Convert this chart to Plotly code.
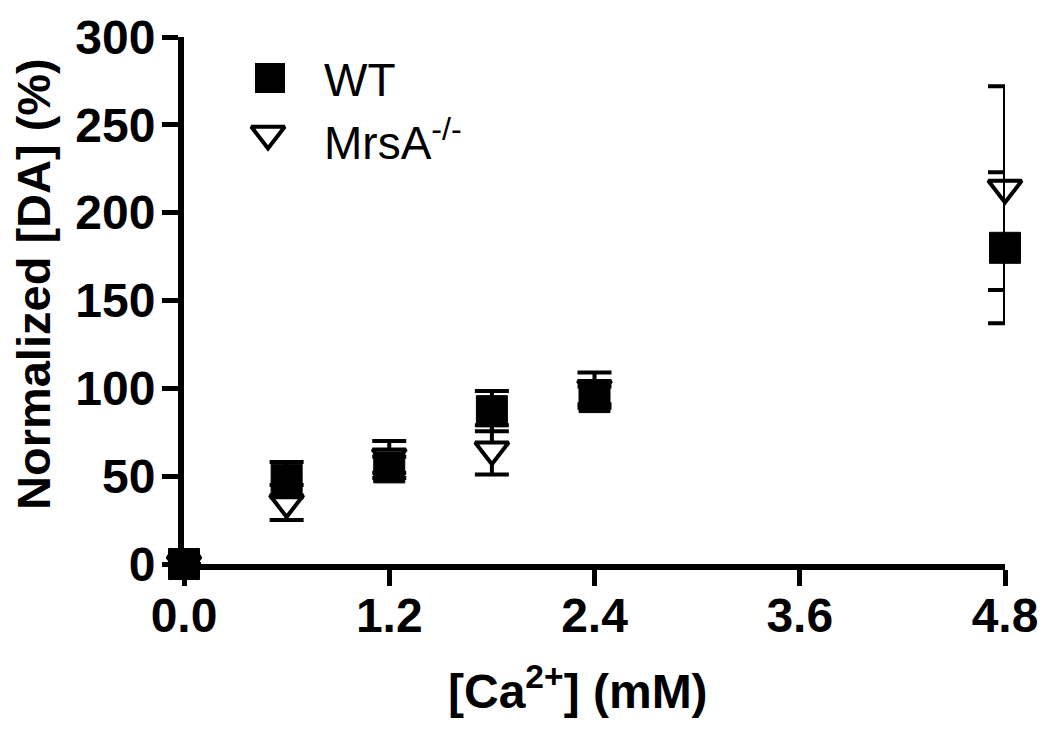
import plotly.graph_objects as go

# ---- data ----
ca = [0.0, 0.6, 1.2, 1.8, 2.4, 4.8]
wt = [0, 48, 55, 87, 95, 180]
wt_err = [0, 10, 6, 11.5, 6, 43]
mrsa = [0, 35, 61, 65, 100, 214]
mrsa_err = [0, 10, 9, 14, 9, 58]

x_ticks = [0.0, 1.2, 2.4, 3.6, 4.8]
x_ticklabels = ["0.0", "1.2", "2.4", "3.6", "4.8"]
y_ticks = [0, 50, 100, 150, 200, 250, 300]

series_names = ["WT", "MrsA<sup>-/-</sup>"]

# ---- layout geometry (page pixels; the page body has an 8px margin) ----
OFF = 8
W, H = 1050 - OFF, 734 - OFF
L, R, T, B = 184 - OFF, 45, 37 - OFF, 170
PW, PH = W - L - R, H - T - B

def px(xp):
    return (xp - OFF - L) / PW

def py(yp):
    return (H - B - (yp - OFF)) / PH

FONT = "Liberation Sans, Arial, sans-serif"

fig = go.Figure()

fig.add_trace(go.Scatter(
    x=ca, y=mrsa, mode="markers", name=series_names[1],
    marker=dict(symbol="triangle-down", size=29, color="white",
                line=dict(color="black", width=4)),
    error_y=dict(type="data", array=mrsa_err, visible=True,
                 color="black", thickness=4, width=17),
    cliponaxis=False, showlegend=False,
))
fig.add_trace(go.Scatter(
    x=ca, y=wt, mode="markers", name=series_names[0],
    marker=dict(symbol="square", size=31, color="black",
                line=dict(color="black", width=1)),
    error_y=dict(type="data", array=wt_err, visible=True,
                 color="black", thickness=4, width=17),
    cliponaxis=False, showlegend=False,
))

# legend glyphs on an overlay axis in paper fractions
fig.add_trace(go.Scatter(
    x=[px(270)], y=[py(78)], mode="markers", xaxis="x2", yaxis="y2",
    marker=dict(symbol="square", size=30, color="black"),
    showlegend=False, hoverinfo="skip", cliponaxis=False,
))
fig.add_trace(go.Scatter(
    x=[px(268)], y=[py(134)], mode="markers", xaxis="x2", yaxis="y2",
    marker=dict(symbol="triangle-down", size=29, color="white",
                line=dict(color="black", width=4)),
    showlegend=False, hoverinfo="skip", cliponaxis=False,
))

annotations = [
    dict(text=series_names[0], x=px(322), y=py(80), xref="paper", yref="paper",
         xanchor="left", yanchor="middle", showarrow=False,
         font=dict(family=FONT, size=46, color="black")),
    dict(text=series_names[1], x=px(322), y=py(140), xref="paper", yref="paper",
         xanchor="left", yanchor="middle", showarrow=False,
         font=dict(family=FONT, size=46, color="black")),
    dict(text="Normalized [DA] (%)", x=px(33), y=py(284), xref="paper", yref="paper",
         xanchor="center", yanchor="middle", showarrow=False, textangle=-90,
         font=dict(family=FONT, size=47, color="black", weight="bold")),
    dict(text="[Ca<sup>2+</sup>] (mM)", x=px(578), y=py(688), xref="paper", yref="paper",
         xanchor="center", yanchor="middle", showarrow=False,
         font=dict(family=FONT, size=48, color="black", weight="bold")),
]

fig.update_layout(
    width=W, height=H,
    margin=dict(l=L, r=R, t=T, b=B, autoexpand=False),
    paper_bgcolor="white", plot_bgcolor="white",
    showlegend=False,
    annotations=annotations,
    xaxis=dict(
        range=[0, 4.8], tickvals=x_ticks, ticktext=x_ticklabels,
        showgrid=False, zeroline=False, showline=True, linecolor="black",
        linewidth=6, ticks="outside", ticklen=16, tickwidth=5, tickcolor="black",
        tickfont=dict(family=FONT, size=48, color="black", weight="bold"),
        ticklabelstandoff=-12, automargin=False,
        layer="below traces",
    ),
    yaxis=dict(
        range=[0, 300], tickvals=y_ticks,
        showgrid=False, zeroline=False, showline=True, linecolor="black",
        linewidth=6, ticks="outside", ticklen=16, tickwidth=5, tickcolor="black",
        tickfont=dict(family=FONT, size=48, color="black", weight="bold"),
        ticklabelstandoff=-3, automargin=False,
        layer="below traces",
    ),
    xaxis2=dict(range=[0, 1], domain=[0, 1], overlaying="x", visible=False,
                anchor="y2", fixedrange=True, automargin=False),
    yaxis2=dict(range=[0, 1], domain=[0, 1], overlaying="y", visible=False,
                anchor="x2", fixedrange=True, automargin=False),
)

fig.write_html("out.html")
